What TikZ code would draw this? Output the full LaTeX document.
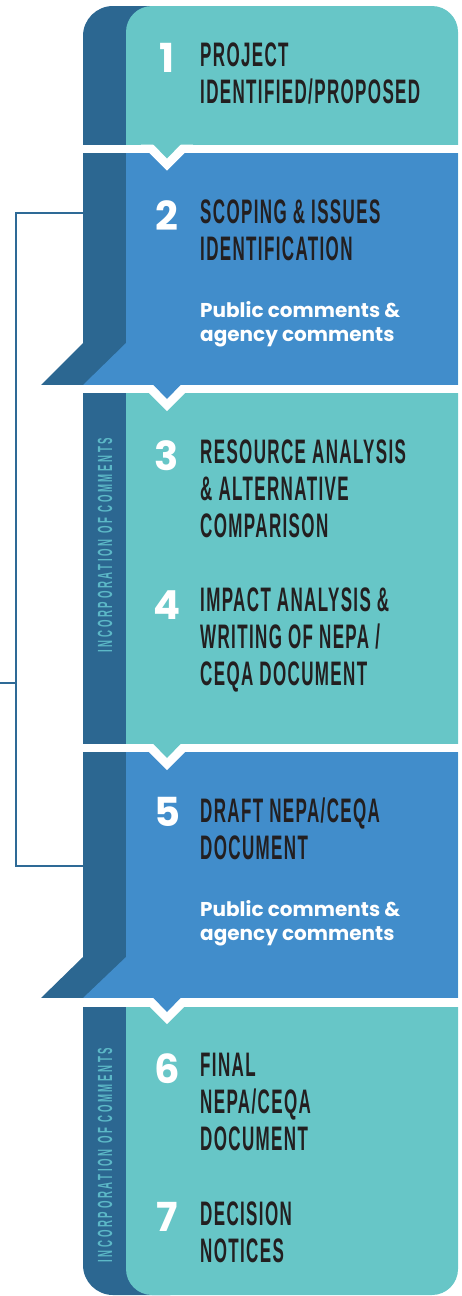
\documentclass[tikz,border=0pt]{standalone}
\usepackage{fontspec}
\newfontfamily\headfont{Liberation Sans}[FakeStretch=0.5,LetterSpace=4]
\newfontfamily\numfont{Poppins}
\newfontfamily\sidefont{Liberation Sans}[FakeStretch=0.47,LetterSpace=13]

\definecolor{tealpanel}{RGB}{103,198,199}
\definecolor{bluepanel}{RGB}{65,141,203}
\definecolor{darkstrip}{RGB}{44,103,145}
\definecolor{bracketline}{RGB}{46,106,150}
\definecolor{sidetext}{RGB}{92,184,199}
\definecolor{headtext}{RGB}{35,31,32}

\tikzset{
  heading/.style={anchor=north west, inner sep=0pt, align=left, text=headtext,
    font=\headfont\bfseries\fontsize{34}{37}\selectfont},
  stepnum/.style={anchor=north, inner sep=0pt, text=white,
    font=\numfont\bfseries\fontsize{40}{40}\selectfont},
  comments/.style={anchor=north west, inner sep=0pt, align=left, text=white,
    font=\numfont\bfseries\fontsize{20}{24.5}\selectfont},
  sidenote/.style={rotate=90, inner sep=0pt, text=sidetext,
    font=\sidefont\bfseries\fontsize{20.5}{20.5}\selectfont},
  bracket/.style={bracketline, line width=2pt},
}

\begin{document}
\begin{tikzpicture}[x=1pt, y=-1pt]
\useasboundingbox (0,0) rectangle (462,1296);

% columns
\fill[darkstrip, rounded corners=30pt] (83,6) rectangle (200,1295);
\fill[tealpanel, rounded corners=26pt] (126,6) rectangle (458,1295);

% blue steps with bevel
\foreach \top/\bev/\bot in {152.5/343/385, 752/957/998} {
  \fill[bluepanel] (126,\top) rectangle (458,\bot);
  \fill[bluepanel] (126,\bev) -- (126,\bot) -- (83,\bot) -- cycle;
  \fill[darkstrip] (83,\bev) -- (83,\bot) -- (41,\bot) -- cycle;
}

% gaps and notches
\foreach \b/\c/\g in {144.5/tealpanel/8, 385/bluepanel/8, 744/tealpanel/8, 998/bluepanel/9} {
  \fill[white] (30,\b) rectangle (462,\b+\g);
  \fill[white] (141,\b) -- (193,\b) -- (167,\b+26) -- cycle;
  \fill[\c] (153,\b-0.5) -- (181,\b-0.5) -- (167,\b+14) -- cycle;
}

% steps
\node[stepnum] (num1) at (167,43) {1};
\node[heading] (head1) at (200,43) {PROJECT\\IDENTIFIED/PROPOSED};

\node[stepnum] (num2) at (167,200) {2};
\node[heading] (head2) at (200,200) {SCOPING \& ISSUES\\IDENTIFICATION};
\node[comments] (pubcom2) at (200,301) {Public comments \&\\agency comments};

\node[stepnum] (num3) at (167,440) {3};
\node[heading] (head3) at (200,440) {RESOURCE ANALYSIS\\\& ALTERNATIVE\\COMPARISON};

\node[stepnum] (num4) at (167,590) {4};
\node[heading] (head4) at (200,588) {IMPACT ANALYSIS \&\\WRITING OF NEPA /\\CEQA DOCUMENT};

\node[stepnum] (num5) at (167,797) {5};
\node[heading] (head5) at (200,798) {DRAFT NEPA/CEQA\\DOCUMENT};
\node[comments] (pubcom5) at (200,900) {Public comments \&\\agency comments};

\node[stepnum] (num6) at (167,1053) {6};
\node[heading] (head6) at (200,1053) {FINAL\\NEPA/CEQA\\DOCUMENT};

\node[stepnum] (num7) at (167,1202) {7};
\node[heading] (head7) at (200,1202) {DECISION\\NOTICES};

% side labels
\node[sidenote] (side3) at (105,545) {INCORPORATION OF COMMENTS};
\node[sidenote] (side6) at (105,1155) {INCORPORATION OF COMMENTS};

% comment loop
\coordinate (scope in) at (83,213);
\coordinate (draft in) at (83,866);
\coordinate (loop) at (16,683);
\coordinate (loop out) at (0,683);
\draw[bracket] (scope in) -| (loop) |- (draft in);
\draw[bracket] (loop) -- (loop out);
\end{tikzpicture}
\end{document}
